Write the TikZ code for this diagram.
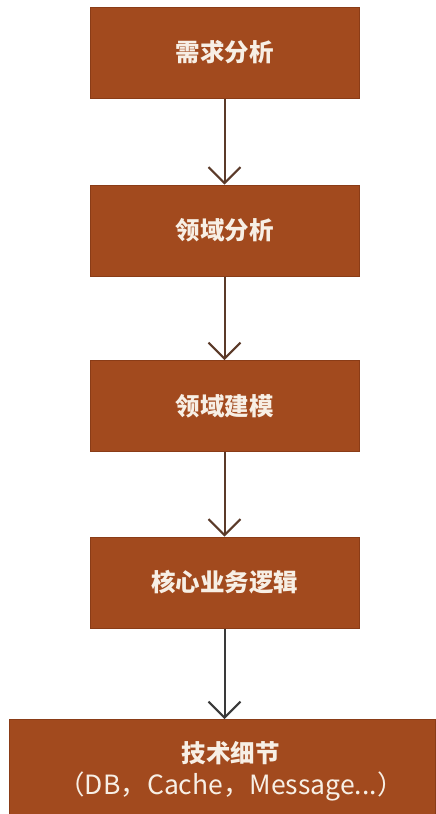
\documentclass[tikz,border=0pt]{standalone}
\usepackage{fontspec}
\newfontfamily\cjk{Noto Sans CJK SC}
\usetikzlibrary{arrows.meta}
\definecolor{boxfill}{HTML}{A24A1E}
\definecolor{boxedge}{HTML}{8A3C17}
\definecolor{txt}{HTML}{F7EFE5}
\definecolor{arrbrown}{HTML}{5B3A29}
\definecolor{arrgray}{HTML}{3A3A3A}
\tikzset{
  stepbox/.style={draw=boxedge, line width=1pt, fill=boxfill, text=txt,
    minimum width=269pt, minimum height=91pt, inner sep=0pt, align=center,
    font=\cjk\bfseries\fontsize{24.5}{30}\selectfont},
  flow/.style={draw=arrbrown, line width=2pt,
    -{Straight Barb[length=16pt,width=32pt,line width=2pt]}},
  flowgray/.style={flow, draw=arrgray}
}
\begin{document}
\begin{tikzpicture}[x=1pt,y=-1pt]
\useasboundingbox[fill=white] (0,0) rectangle (436,814);
\node[stepbox] (a) at (224.5,52.5) {需求分析};
\node[stepbox] (b) at (224.5,230.5) {领域分析};
\node[stepbox] (c) at (224.5,406) {领域建模};
\node[stepbox] (d) at (224.5,582.5) {核心业务逻辑};
\begin{scope}
\clip (0,0) rectangle (436,814);
\node[stepbox, minimum width=426pt, minimum height=110pt, anchor=north west] (e) at (9,719) {};
\end{scope}
\node[text=txt, font=\cjk\fontsize{26.5}{32}\selectfont, align=center, inner sep=0pt] (et) at (231,771) {{\bfseries\fontsize{24.5}{32}\selectfont 技术细节}\\（DB，Cache，Message...）};
\draw[flow] (a.south) -- (b.north);
\draw[flow] (b.south) -- (c.north);
\draw[flow] (c.south) -- (d.north);
\draw[flowgray] (d.south) -- (d.south |- e.north);
\end{tikzpicture}
\end{document}
